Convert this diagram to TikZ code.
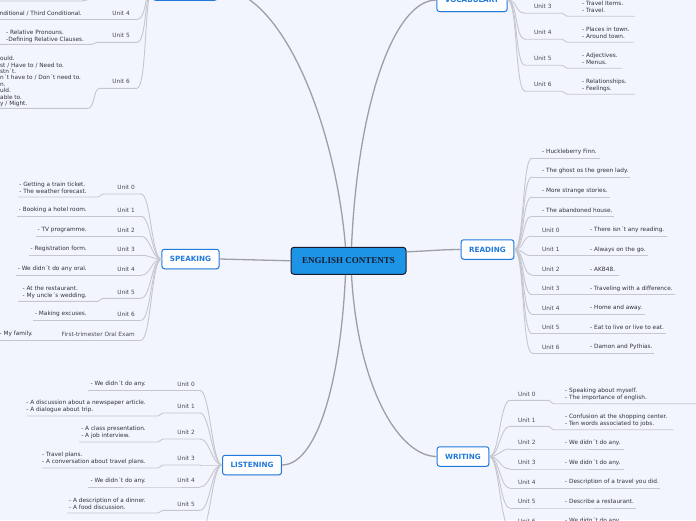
\documentclass[tikz,border=0pt]{standalone}
\usepackage{fontspec}
\setmainfont{DejaVu Sans}
\newfontfamily\topicserif{Liberation Serif}
\usetikzlibrary{shadows}
\definecolor{paper}{RGB}{242,245,253}
\definecolor{topicblue}{RGB}{30,148,230}
\definecolor{ink}{RGB}{22,28,45}
\definecolor{branchblue}{RGB}{32,122,220}
\definecolor{wire}{RGB}{198,198,206}
\definecolor{trunk}{RGB}{158,158,166}
\definecolor{leaftext}{RGB}{50,50,58}
\definecolor{unittext}{RGB}{72,72,80}
\tikzset{
  main topic/.style={draw=ink,fill=topicblue,rounded corners=3pt,line width=1pt,
    minimum width=115pt,minimum height=27pt,text=ink,
    font=\topicserif\fontsize{9}{10}\selectfont\bfseries},
  branch/.style={draw=branchblue,fill=white,rounded corners=2.5pt,line width=1pt,
    minimum height=19.5pt,inner xsep=8pt,text=branchblue,
    font=\fontsize{7.2}{8}\selectfont\bfseries,
    drop shadow={opacity=0.2,shadow xshift=0.6pt,shadow yshift=-0.8pt}},
  unit/.style={inner sep=0pt,font=\fontsize{5.8}{7}\selectfont,text=unittext},
  item/.style={inner sep=0pt,align=left,font=\fontsize{5.8}{7}\selectfont,text=leaftext},
  trunk line/.style={draw=trunk,line width=1.3pt},
  twig/.style={draw=wire,line width=0.9pt},
  uline/.style={draw=wire,line width=0.9pt},
}

\begin{document}
\begin{tikzpicture}[x=1pt,y=-1pt]
  \useasboundingbox (0,0) rectangle (696,520);
  \fill[paper] (0,0) rectangle (696,520);
  \clip (0,0) rectangle (696,520);

  % topics
  \node[main topic] (ec) at (348.5,260.8) {ENGLISH CONTENTS};
  \node[branch,minimum width=64pt,minimum height=24pt] (gr) at (185,-11.7) {};
  \node[branch,minimum height=23pt] (vo) at (472,0) {VOCABULARY};
  \node[branch] (rd) at (487.5,249.5) {READING};
  \node[branch] (sp) at (190.5,259) {SPEAKING};
  \node[branch] (li) at (252,465) {LISTENING};
  \node[branch] (wr) at (463,456.5) {WRITING};

  \draw[trunk line] ([xshift=-3pt]ec.north) .. controls (335,120) and (280,-11.7) .. (gr.east);
  \draw[trunk line] ([xshift=3pt]ec.north) .. controls (358,100) and (395,0) .. (vo.west);
  \draw[trunk line] ([yshift=9pt]ec.east) .. controls (430,251) and (440,249.5) .. (rd.west);
  \draw[trunk line] (ec.west) -- (sp.east);
  \draw[trunk line] ([xshift=-3pt]ec.south) .. controls (340,390) and (315,465) .. (li.east);
  \draw[trunk line] ([xshift=3pt]ec.south) .. controls (358,390) and (400,456.5) .. (wr.west);

  % grammar (cut by the top and left edges)
  \coordinate (ga3) at (0,1);
  \coordinate (gb3) at (82,1);
  \coordinate (gc3) at (97,-3);
  \coordinate (gd3) at (137,-3);
  \draw[uline] (ga3) -- (gb3) .. controls +(3,0) and +(-3,0) .. (gc3) -- (gd3);
  \draw[twig] (gd3) .. controls +(10,0) and +(-8,0) .. (gr.west);

  \node[unit,anchor=east] (gu4) at (130,13.3) {Unit 4};
  \node[item,anchor=east] (gg4) at (82,13.3) {onditional / Third Conditional.};
  \coordinate (ga4) at (0,19.5);
  \coordinate (gd4) at (137,19.5);
  \draw[uline] (ga4) -- (gd4);
  \draw[twig] (gd4) .. controls +(10,0) and +(-8,0) .. (gr.west);

  \node[unit,anchor=east] (gu5) at (130,35.7) {Unit 5};
  \node[item,anchor=west] (gg5) at (6,36) {- Relative Pronouns.\\-Defining Relative Clauses.};
  \coordinate (ga5) at (0,44.3);
  \coordinate (gb5) at (92,44.3);
  \coordinate (gc5) at (97,42.3);
  \coordinate (gd5) at (137,42.3);
  \draw[uline] (ga5) -- (gb5) .. controls +(3,0) and +(-3,0) .. (gc5) -- (gd5);
  \draw[twig] (gd5) .. controls +(10,0) and +(-8,0) .. (gr.west);

  \node[unit,anchor=east] (gu6) at (130,81.7) {Unit 6};
  \node[item,anchor=west,font=\fontsize{5.8}{6.43}\selectfont] (gg6) at (0,81.5)
    {ould.\\st / Have to / Need to.\\stn´t.\\n´t have to / Don´t need to.\\n.\\uld.\\able to.\\y / Might.};
  \coordinate (ga6) at (0,108.3);
  \coordinate (gb6) at (88,108.3);
  \coordinate (gc6) at (100,88.3);
  \coordinate (gd6) at (137,88.3);
  \draw[uline] (ga6) -- (gb6) .. controls +(7,0) and +(-7,0) .. (gc6) -- (gd6);
  \draw[twig] (gd6) .. controls +(10,0) and +(-8,0) .. (gr.west);

  % vocabulary
  \foreach \n/\yo in {0/-13,1/-39,2/-65}{
    \coordinate (vo\n) at (525,\yo);
    \draw[twig] (vo.east) .. controls +(10,0) and +(-10,0) .. (vo\n);
  }
  \foreach \n/\ty/\gtxt/\ge in {
    3/6.7/{- Travel Items.\\- Travel.}/635,
    4/32.7/{- Places in town.\\- Around town.}/634,
    5/58.7/{- Adjectives.\\- Menus.}/622,
    6/84.7/{- Relationships.\\- Feelings.}/635}{
    \node[unit,anchor=west] (vu\n) at (534,\ty) {Unit \n};
    \node[item,anchor=west] (vg\n) at (582,{\ty+0.6}) {\gtxt};
    \coordinate (va\n) at (525,{\ty+6.5});
    \coordinate (vb\n) at (562,{\ty+6.5});
    \coordinate (vc\n) at (567,{\ty+9.5});
    \coordinate (vd\n) at (\ge,{\ty+9.5});
    \draw[uline] (va\n) -- (vb\n) .. controls +(3,0) and +(-3,0) .. (vc\n) -- (vd\n);
    \draw[twig] (vo.east) .. controls +(10,0) and +(-10,0) .. (va\n);
  }

  % reading
  \foreach \n/\ty/\gtxt/\ge in {
    1/152/{- Huckleberry Finn.}/600,
    2/171/{- The ghost os the green lady.}/630,
    3/191/{- More strange stories.}/610,
    4/210/{- The abandoned house.}/614}{
    \node[item,anchor=west] (rs\n) at (542,\ty) {\gtxt};
    \coordinate (rsa\n) at (532,{\ty+6});
    \coordinate (rsb\n) at (\ge,{\ty+6});
    \draw[uline] (rsa\n) -- (rsb\n);
    \draw[twig] (rd.east) .. controls +(10,0) and +(-10,0) .. (rsa\n);
  }
  \foreach \n/\ty/\gtxt/\ge in {
    0/230/{- There isn´t any reading.}/667,
    1/249.7/{- Always on the go.}/648,
    2/269/{- AKB48.}/619,
    3/288.7/{- Traveling with a difference.}/675,
    4/308/{- Home and away.}/645,
    5/327.7/{- Eat to live or live to eat.}/666,
    6/347/{- Damon and Pythias.}/654}{
    \node[unit,anchor=west] (ru\n) at (542,\ty) {Unit \n};
    \node[item,anchor=west] (rg\n) at (590,\ty) {\gtxt};
    \coordinate (ra\n) at (532,{\ty+6});
    \coordinate (rb\n) at (\ge,{\ty+6});
    \draw[uline] (ra\n) -- (rb\n);
    \draw[twig] (rd.east) .. controls +(10,0) and +(-10,0) .. (ra\n);
  }

  % speaking
  \foreach \n/\ty/\gtxt/\gs/\gy in {
    0/187.7/{- Getting a train ticket.\\- The weather forecast.}/18/197,
    1/210/{- Booking a hotel room.}/17/216.3,
    2/230/{- TV programme.}/36/236.3,
    3/249/{- Registration form.}/29/255.3,
    4/269/{- We didn´t do any oral.}/16/275.3,
    5/292/{- At the restaurant.\\- My uncle´s wedding.}/18/301.3,
    6/314/{- Making excuses.}/33/320.3}{
    \node[unit,anchor=east] (su\n) at (135,\ty) {Unit \n};
    \node[item,anchor=east] (sg\n) at (87,\ty) {\gtxt};
    \coordinate (sa\n) at (\gs,\gy);
    \coordinate (sb\n) at (98,\gy);
    \coordinate (sc\n) at (103,{\ty+6.3});
    \coordinate (sd\n) at (141,{\ty+6.3});
    \draw[uline] (sa\n) -- (sb\n) .. controls +(3,0) and +(-3,0) .. (sc\n) -- (sd\n);
    \draw[twig] (sd\n) .. controls +(10,0) and +(-10,0) .. (sp.west);
  }
  \node[unit,anchor=east] (sux) at (135,334) {First-trimester Oral Exam};
  \node[item,anchor=east] (sgx) at (33,334) {- My family.};
  \coordinate (sax) at (0,340.3);
  \coordinate (sdx) at (141,340.3);
  \draw[uline] (sax) -- (sdx);
  \draw[twig] (sdx) .. controls +(10,0) and +(-10,0) .. (sp.west);

  % listening
  \foreach \n/\ty/\gtxt/\gs/\gy in {
    0/384/{- We didn´t do any.}/88/390.3,
    1/406.7/{- A discussion about a newspaper article.\\- A dialogue about trip.}/27/416,
    2/432.7/{- A class presentation.\\- A job interview.}/79/442,
    3/458.7/{- Travel plans.\\- A conversation about travel plans.}/42/468,
    4/480.7/{- We didn´t do any.}/88/487,
    5/504/{- A description of a dinner.\\- A food discussion.}/67/513}{
    \node[unit,anchor=east] (lu\n) at (195,\ty) {Unit \n};
    \node[item,anchor=east] (lg\n) at (146,\ty) {\gtxt};
    \coordinate (la\n) at (\gs,\gy);
    \coordinate (lb\n) at (158,\gy);
    \coordinate (lc\n) at (163,{\ty+6.3});
    \coordinate (ld\n) at (200,{\ty+6.3});
    \draw[uline] (la\n) -- (lb\n) .. controls +(3,0) and +(-3,0) .. (lc\n) -- (ld\n);
    \draw[twig] (ld\n) .. controls +(10,0) and +(-10,0) .. (li.west);
  }
  \coordinate (ld6) at (200,533);
  \draw[twig] (ld6) .. controls +(10,0) and +(-10,0) .. (li.west);

  % writing
  \foreach \n/\ty/\gtxt/\gy/\ge in {
    0/394/{- Speaking about myself.\\- The importance of english.}/403.7/700,
    1/420/{- Confusion at the shopping center.\\- Ten words associated to jobs.}/429.7/673,
    2/442.7/{- We didn´t do any.}/449/624,
    3/462.7/{- We didn´t do any.}/469/624,
    4/482/{- Description of a travel you did.}/488.3/660,
    5/501.7/{- Describe a restaurant.}/508/636,
    6/521/{- We didn´t do any.}/527.3/624}{
    \node[unit,anchor=west] (wu\n) at (518,\ty) {Unit \n};
    \node[item,anchor=west] (wg\n) at (565,\ty) {\gtxt};
    \coordinate (wa\n) at (510,{\ty+6.3});
    \coordinate (wb\n) at (549,{\ty+6.3});
    \coordinate (wc\n) at (553,\gy);
    \coordinate (wd\n) at (\ge,\gy);
    \draw[uline] (wa\n) -- (wb\n) .. controls +(3,0) and +(-3,0) .. (wc\n) -- (wd\n);
    \draw[twig] (wr.east) .. controls +(10,0) and +(-10,0) .. (wa\n);
  }
\end{tikzpicture}
\end{document}
